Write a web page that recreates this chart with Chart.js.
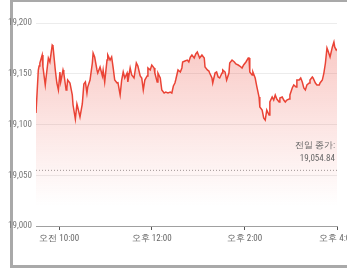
<!DOCTYPE html>
<html><head><meta charset="utf-8">
<script src="https://cdn.jsdelivr.net/npm/chart.js@4/dist/chart.umd.min.js"></script>
<style>
html,body{margin:0;padding:0;background:#fff;width:347px;height:270px;overflow:hidden;}
#frame{position:absolute;left:10px;top:-1px;width:360px;height:269px;border:3px solid #a9a9a9;border-right:none;box-sizing:border-box;}
#c{position:absolute;left:0;top:0;}
</style></head>
<body>
<div id="frame"></div>
<canvas id="c" width="372" height="270"></canvas>
<script>
// minutes of day (9:30 = 570 ... 16:00 = 960)
const times = [570,573,574,575,578,579,582,583,586,588,591,592,595,597,599,601,602,605,606,609,610,611,614,617,618,621,623,624,627,630,632,634,636,637,640,643,644,646,649,650,653,656,657,659,662,663,666,668,670,672,675,676,679,681,683,685,688,689,692,694,697,700,702,705,707,709,711,714,715,718,720,723,724,727,728,731,733,736,738,741,744,746,748,750,751,754,757,759,760,763,766,768,770,772,775,777,779,781,782,785,788,789,792,794,795,798,799,802,804,806,808,811,812,815,817,820,821,824,827,829,832,834,837,839,842,845,846,847,850,851,854,856,859,860,863,865,867,869,872,873,876,878,880,882,885,886,889,891,893,895,898,899,902,904,907,908,911,913,915,917,919,921,924,925,928,929,932,934,937,938,941,943,945,947,948,951,954,956,957,959,960];
const prices = [19111.3,19153.7,19157.6,19160.6,19168.5,19156.7,19138.9,19145.8,19165.5,19161.6,19178.3,19177.3,19153.7,19140.9,19134.0,19151.7,19141.9,19153.7,19150.7,19134.0,19136.0,19143.8,19140.9,19129.1,19119.2,19105.4,19120.2,19117.2,19107.4,19120.2,19139.9,19141.9,19131.0,19136.9,19143.8,19160.6,19170.4,19166.5,19153.7,19150.7,19156.7,19147.8,19153.7,19141.9,19163.5,19168.5,19163.5,19166.5,19155.7,19143.8,19140.9,19141.9,19129.1,19143.8,19151.7,19145.8,19150.7,19141.9,19155.7,19148.8,19145.8,19160.6,19157.6,19147.8,19145.8,19134.0,19143.8,19147.8,19155.7,19153.7,19158.6,19155.7,19150.7,19141.9,19150.7,19145.8,19134.0,19131.0,19132.0,19131.0,19132.0,19131.0,19137.9,19140.9,19143.8,19153.7,19151.7,19155.7,19161.6,19162.6,19163.5,19161.6,19166.5,19168.5,19165.5,19169.5,19171.4,19167.5,19165.5,19168.5,19165.5,19156.7,19153.7,19152.7,19150.7,19145.8,19140.9,19150.7,19151.7,19146.8,19145.8,19150.7,19153.7,19151.7,19143.8,19150.7,19160.6,19163.5,19161.6,19159.6,19158.6,19157.6,19155.7,19158.6,19161.6,19165.5,19165.5,19151.7,19148.8,19151.7,19145.8,19137.9,19127.1,19117.2,19114.3,19106.4,19104.4,19114.3,19109.4,19122.2,19127.1,19124.1,19129.1,19125.1,19122.2,19126.1,19127.1,19124.1,19122.2,19124.1,19125.1,19129.1,19136.0,19138.9,19136.9,19143.8,19143.8,19145.8,19141.9,19136.0,19134.0,19138.9,19140.9,19143.8,19146.8,19145.8,19140.9,19138.9,19138.9,19140.9,19143.8,19150.7,19160.6,19175.4,19173.4,19166.5,19176.4,19181.3,19176.4,19173.4,19174.4];
const prevClose = 19054.84;
const prevCloseLabel = ["전일 종가:", "19,054.84"];
const xTickValues = [600, 720, 840, 960];
const xTickLabels = ["오전 10:00", "오후 12:00", "오후 2:00", "오후 4:00"];
const yTickValues = [19000, 19050, 19100, 19150, 19200];

const FONT = "'Liberation Sans Narrow','Arial Narrow','Roboto Condensed','Liberation Sans',sans-serif";
const RED = 'rgb(234,67,53)';

const labelPlugin = {
  id: 'prevLabel',
  afterDatasetsDraw(chart) {
    const ctx = chart.ctx, y = chart.scales.y.getPixelForValue(prevClose);
    ctx.save();
    ctx.font = "9px " + FONT;
    ctx.fillStyle = '#666';
    ctx.textAlign = 'right';
    ctx.textBaseline = 'middle';
    ctx.fillText(prevCloseLabel[0], chart.chartArea.right - 2, y - 25);
    ctx.fillText(prevCloseLabel[1], chart.chartArea.right - 2, y - 12);
    ctx.restore();
  }
};

new Chart(document.getElementById('c'), {
  type: 'line',
  data: {
    datasets: [
      {
        data: times.map((t, i) => ({x: t, y: prices[i]})),
        borderColor: RED,
        borderWidth: 1.5,
        pointRadius: 0,
        tension: 0,
        fill: 'start',
        backgroundColor(context) {
          const ca = context.chart.chartArea;
          if (!ca) return 'rgba(234,67,53,0.2)';
          const g = context.chart.ctx.createLinearGradient(0, ca.top, 0, ca.bottom);
          g.addColorStop(0, 'rgba(234,67,53,0.32)');
          g.addColorStop(0.55, 'rgba(234,67,53,0.12)');
          g.addColorStop(0.9, 'rgba(234,67,53,0)');
          return g;
        }
      },
      {
        data: [{x: times[0], y: prevClose}, {x: times[times.length - 1], y: prevClose}],
        borderColor: '#9a9a9a',
        borderWidth: 1,
        borderDash: [1, 2],
        pointRadius: 0,
        fill: false
      }
    ]
  },
  options: {
    responsive: false,
    animation: false,
    layout: {padding: {left: 0, top: 23, right: 35, bottom: 0}},
    plugins: {legend: {display: false}, tooltip: {enabled: false}},
    scales: {
      x: {
        type: 'linear',
        min: 570, max: 960,
        afterBuildTicks(s) { s.ticks = xTickValues.map(v => ({value: v})); },
        afterFit(s) { s.height = 44; },
        grid: {display: true, drawOnChartArea: false, drawTicks: true, tickLength: 4, tickColor: '#555'},
        border: {display: true, color: '#a0a0a0', width: 1},
        ticks: {
          padding: 3, maxRotation: 0, autoSkip: false,
          color: '#666',
          font: {size: 9, family: FONT},
          callback(v) { const i = xTickValues.indexOf(v); return i >= 0 ? xTickLabels[i] : ''; }
        }
      },
      y: {
        min: 19000, max: 19200,
        afterBuildTicks(s) { s.ticks = yTickValues.map(v => ({value: v})); },
        afterFit(s) { s.width = 36; },
        grid: {color: '#ececec', drawTicks: false, lineWidth: 1},
        border: {display: false},
        ticks: {
          padding: 4, color: '#777',
          font: {size: 9, family: FONT},
          callback(v) { return v.toLocaleString('en-US'); }
        }
      }
    }
  },
  plugins: [labelPlugin]
});
</script>
</body></html>
